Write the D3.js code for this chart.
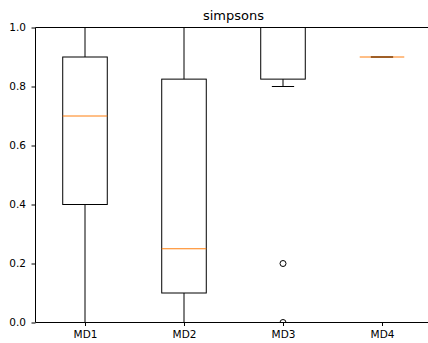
<!DOCTYPE html>
<html>
<head>
<meta charset="utf-8">
<script src="https://cdn.jsdelivr.net/npm/d3@7"></script>
<style>
  html, body { margin: 0; padding: 0; background: #fff; }
  svg { display: block; }
  text { font-family: "DejaVu Sans", sans-serif; fill: #000; }
</style>
</head>
<body>
<svg id="chart" width="428" height="343"></svg>
<script>
// Box statistics per model
const categories = ["MD1", "MD2", "MD3", "MD4"];
const whiskerLow  = [0.0, 0.0, 0.8, 0.9];
const q1          = [0.4, 0.1, 0.825, 0.9];
const median      = [0.7, 0.25, 1.0, 0.9];
const q3          = [0.9, 0.825, 1.0, 0.9];
const whiskerHigh = [1.0, 1.0, 1.0, 0.9];
const outliers    = [[], [], [0.2, 0.0], []];
const yTicks = [0.0, 0.2, 0.4, 0.6, 0.8, 1.0];
const title = "simpsons";

const svg = d3.select("#chart");
const plotLeft = 35.5, plotRight = 431.5, plotTop = 27.5, plotBottom = 322.5;

// positions 1..4 with half-unit padding on each side
const x = d3.scaleLinear().domain([0.5, 4.5]).range([plotLeft, plotRight]);
const y = d3.scaleLinear().domain([0, 1]).range([plotBottom, plotTop]);
const boxW = 0.45, capW = 0.225;

svg.append("defs").append("clipPath").attr("id", "plotClip")
  .append("rect").attr("x", plotLeft).attr("y", plotTop)
  .attr("width", plotRight - plotLeft).attr("height", plotBottom - plotTop);

const plot = svg.append("g").attr("clip-path", "url(#plotClip)");

categories.forEach((c, i) => {
  const p = i + 1;
  const g = plot.append("g");
  const stroke = { stroke: "#000", "stroke-width": 1, fill: "none" };
  const line = (x1, y1, x2, y2, attrs) => {
    const l = g.append("line").attr("x1", x1).attr("y1", y1).attr("x2", x2).attr("y2", y2);
    Object.entries(attrs).forEach(([k, v]) => l.attr(k, v));
  };
  // whiskers
  line(x(p), y(q1[i]), x(p), y(whiskerLow[i]), stroke);
  line(x(p), y(q3[i]), x(p), y(whiskerHigh[i]), stroke);
  // caps
  line(x(p - capW / 2), y(whiskerLow[i]), x(p + capW / 2), y(whiskerLow[i]), stroke);
  line(x(p - capW / 2), y(whiskerHigh[i]), x(p + capW / 2), y(whiskerHigh[i]), stroke);
  // box
  g.append("rect")
    .attr("x", x(p - boxW / 2)).attr("y", y(q3[i]))
    .attr("width", x(p + boxW / 2) - x(p - boxW / 2))
    .attr("height", y(q1[i]) - y(q3[i]))
    .attr("fill", "none").attr("stroke", "#000").attr("stroke-width", 1);
  // median
  line(x(p - boxW / 2), y(median[i]), x(p + boxW / 2), y(median[i]),
       { stroke: "#ff7f0e", "stroke-width": 1 });
  // fliers
  outliers[i].forEach(v => {
    g.append("circle").attr("cx", x(p)).attr("cy", y(v)).attr("r", 3)
      .attr("fill", "none").attr("stroke", "#000").attr("stroke-width", 1);
  });
});

// spines (right spine falls outside the view)
const addLine = (x1, y1, x2, y2) => svg.append("line")
  .attr("x1", x1).attr("y1", y1).attr("x2", x2).attr("y2", y2)
  .attr("stroke", "#000").attr("stroke-width", 1);
addLine(plotLeft, plotTop, plotRight, plotTop);
addLine(plotLeft, plotBottom, plotRight, plotBottom);
addLine(plotLeft, plotTop, plotLeft, plotBottom);

// y axis
const yAxis = d3.axisLeft(y).tickValues(yTicks).tickFormat(d3.format(".1f"))
  .tickSize(4).tickPadding(5.5);
const gy = svg.append("g").attr("transform", `translate(${plotLeft},0)`).call(yAxis);
gy.select(".domain").remove();
gy.selectAll("text").style("font-size", "10.5px").style("font-family", "DejaVu Sans");

// x axis
const xAxis = d3.axisBottom(x).tickValues([1, 2, 3, 4])
  .tickFormat((d, i) => categories[i]).tickSize(3.5).tickPadding(4.5);
const gx = svg.append("g").attr("transform", `translate(0,${plotBottom})`).call(xAxis);
gx.select(".domain").remove();
gx.selectAll("text").style("font-size", "10.5px").style("font-family", "DejaVu Sans");

// title
svg.append("text").attr("x", (plotLeft + plotRight) / 2).attr("y", 20)
  .attr("text-anchor", "middle").style("font-size", "13px").text(title);
</script>
</body>
</html>
